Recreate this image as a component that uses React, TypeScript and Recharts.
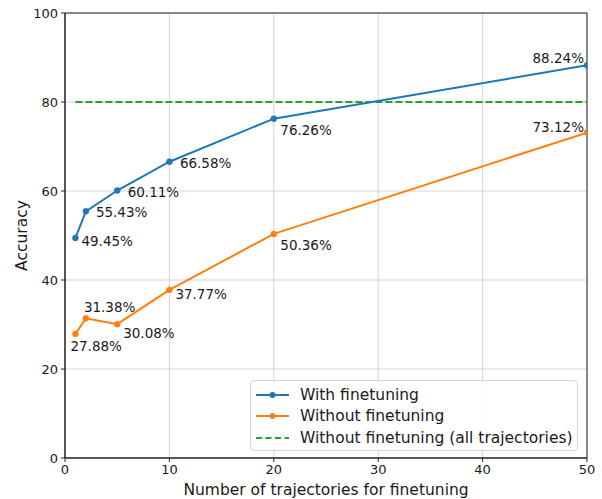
import React from 'react'
import {
  LineChart,
  Line,
  XAxis,
  YAxis,
  CartesianGrid,
  Legend,
  LabelList,
  ReferenceArea,
} from 'recharts'

const trajectories = [1, 2, 5, 10, 20, 50]
const withFinetuning = [49.45, 55.43, 60.11, 66.58, 76.26, 88.24]
const withoutFinetuning = [27.88, 31.38, 30.08, 37.77, 50.36, 73.12]
const allTrajectoriesX = [1, 50]
const allTrajectoriesAcc = [80, 80]
const xTicks = [0, 10, 20, 30, 40, 50]
const yTicks = [0, 20, 40, 60, 80, 100]

const BLUE = '#1f77b4'
const ORANGE = '#ff7f0e'
const GREEN = '#2ca02c'
const FONT = '"DejaVu Sans", sans-serif'

// label nudges (dx, dy, anchor) per point, like the annotate() offsets
const blueLabelPos: [number, number, string][] = [
  [6, 3, 'start'], [10, 1, 'start'], [10.5, 1, 'start'],
  [10.5, 1.5, 'start'], [6.5, 11, 'start'], [-3, -7, 'end'],
]
const orangeLabelPos: [number, number, string][] = [
  [-5, 12, 'start'], [-2, -11, 'start'], [6, 9, 'start'],
  [6, 4, 'start'], [6.5, 11, 'start'], [-3, -6, 'end'],
]

const tableData = trajectories.map((x, i) => ({
  x,
  withFt: withFinetuning[i],
  withoutFt: withoutFinetuning[i],
}))
const allData = allTrajectoriesX.map((x, i) => ({ x, acc: allTrajectoriesAcc[i] }))

const legendItems = [
  { label: 'With finetuning', color: BLUE, dashed: false },
  { label: 'Without finetuning', color: ORANGE, dashed: false },
  { label: 'Without finetuning (all trajectories)', color: GREEN, dashed: true },
]

function makeLabel(pos: [number, number, string][]) {
  return (props: any) => {
    const { x, y, value, index } = props
    const [dx, dy, anchor] = pos[index]
    return (
      <text
        x={x + dx}
        y={y + dy}
        textAnchor={anchor}
        dominantBaseline="central"
        fontSize={13.5}
        fontFamily={FONT}
        fill="#1a1a1a"
      >
        {value.toFixed(2)}%
      </text>
    )
  }
}

function renderLegend() {
  return (
    <div style={{
      width: 328,
      height: 71,
      boxSizing: 'border-box',
      border: '1px solid #d6d6d6',
      borderRadius: 4,
      background: 'rgba(255,255,255,0.85)',
      padding: '3px 0 0 4px',
      fontFamily: FONT,
      fontSize: 15.5,
      color: '#1a1a1a',
    }}>
      {legendItems.map((it) => (
        <div key={it.label} style={{ display: 'flex', alignItems: 'center', height: 21.5 }}>
          <svg width={45} height={12}>
            <line
              x1={1} y1={6} x2={34} y2={6}
              stroke={it.color}
              strokeWidth={2}
              strokeDasharray={it.dashed ? '6 3.5' : undefined}
            />
            {!it.dashed && <circle cx={17.5} cy={6} r={3} fill={it.color} />}
          </svg>
          <span>{it.label}</span>
        </div>
      ))}
    </div>
  )
}

export default function App() {
  const tick = { fontSize: 13, fill: '#1a1a1a', fontFamily: FONT }
  return (
    <div style={{ position: 'absolute', left: 0, top: 0, background: '#fff' }}>
      <LineChart
        width={602}
        height={499}
        data={tableData}
        margin={{ top: 13, right: 15, left: 0, bottom: 0 }}
      >
        <CartesianGrid stroke="#cfcfcf" strokeWidth={0.9} />
        <XAxis
          dataKey="x"
          type="number"
          domain={[0, 50]}
          ticks={xTicks}
          allowDataOverflow
          height={41}
          tick={tick}
          tickSize={4}
          tickMargin={3}
          stroke="#262626"
          label={{
            value: 'Number of trajectories for finetuning',
            position: 'insideBottom',
            offset: 4,
            style: { fontSize: 15.5, fill: '#1a1a1a', fontFamily: FONT },
          }}
        />
        <YAxis
          type="number"
          domain={[0, 100]}
          ticks={yTicks}
          width={65}
          tick={tick}
          tickSize={4}
          tickMargin={3}
          stroke="#262626"
          label={{
            value: 'Accuracy',
            angle: -90,
            position: 'insideLeft',
            offset: 21,
            style: { textAnchor: 'middle', fontSize: 15.5, fill: '#1a1a1a', fontFamily: FONT },
          }}
        />
        <ReferenceArea
          x1={0}
          x2={50}
          y1={0}
          y2={100}
          fill="none"
          stroke="#262626"
          strokeWidth={1}
          ifOverflow="visible"
        />
        <Line
          data={allData}
          dataKey="acc"
          stroke={GREEN}
          strokeWidth={2}
          strokeDasharray="7 3"
          dot={false}
          isAnimationActive={false}
        />
        <Line
          dataKey="withFt"
          stroke={BLUE}
          strokeWidth={2}
          dot={{ r: 3, fill: BLUE, stroke: BLUE, strokeWidth: 0.5 }}
          isAnimationActive={false}
        >
          <LabelList dataKey="withFt" content={makeLabel(blueLabelPos)} />
        </Line>
        <Line
          dataKey="withoutFt"
          stroke={ORANGE}
          strokeWidth={2}
          dot={{ r: 3, fill: ORANGE, stroke: ORANGE, strokeWidth: 0.5 }}
          isAnimationActive={false}
        >
          <LabelList dataKey="withoutFt" content={makeLabel(orangeLabelPos)} />
        </Line>
        <Legend
          layout="vertical"
          align="center"
          verticalAlign="middle"
          content={renderLegend}
          wrapperStyle={{ left: 250, top: 380, width: 328 }}
        />
      </LineChart>
    </div>
  )
}
